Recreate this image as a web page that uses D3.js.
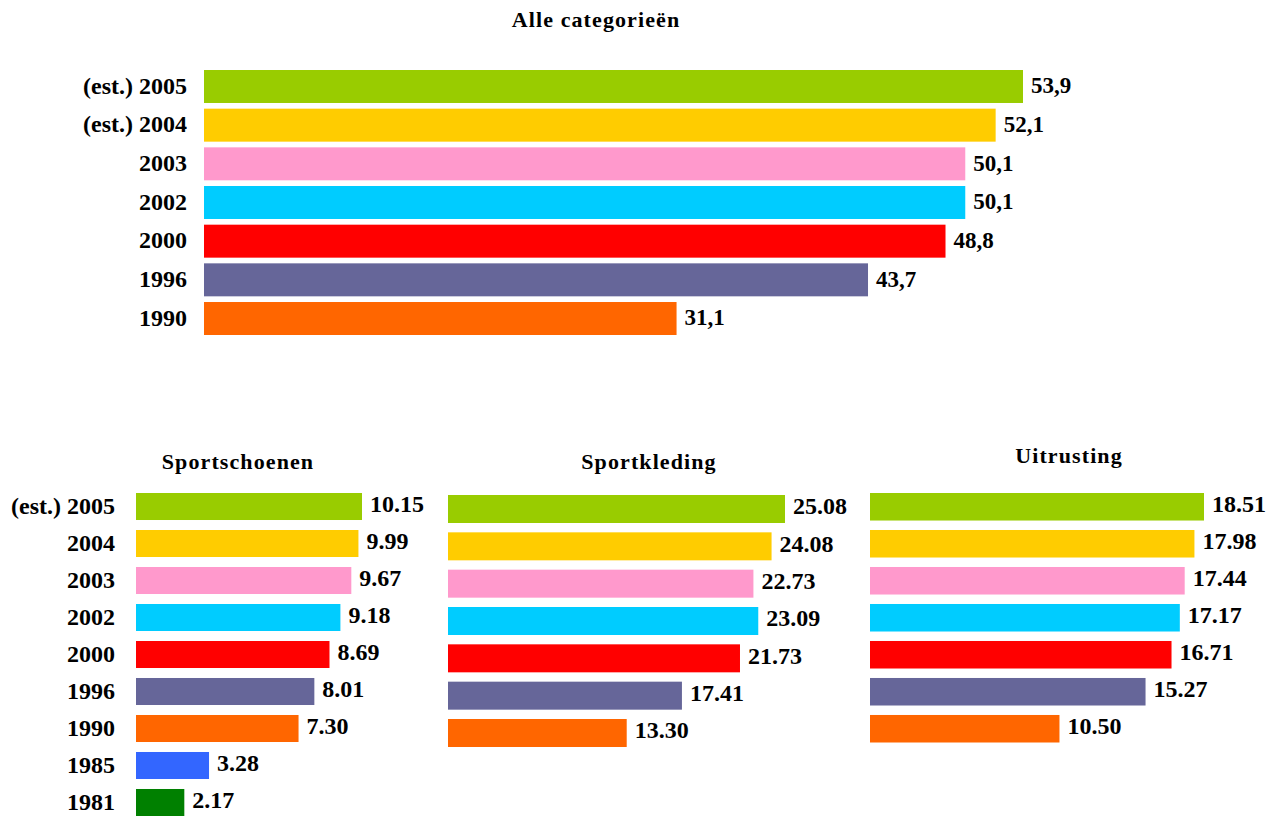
<!DOCTYPE html>
<html>
<head>
<meta charset="utf-8">
<script src="https://cdn.jsdelivr.net/npm/d3@7/dist/d3.min.js"></script>
<style>
  html, body { margin: 0; padding: 0; background: #ffffff; }
  svg { display: block; }
  text { font-family: "Liberation Serif", "Times New Roman", serif; font-weight: bold; fill: #000; }
</style>
</head>
<body>
<svg id="chart" width="1278" height="816"></svg>
<script>
// Sport-related spending per year, in total and split into three categories
const colorKeys = ["2005", "2004", "2003", "2002", "2000", "1996", "1990", "1985", "1981"];
const colorValues = ["#99CC00", "#FFCC00", "#FF99CC", "#00CCFF", "#FF0000", "#666699", "#FF6600", "#3366FF", "#008000"];

const totalYears = ["2005", "2004", "2003", "2002", "2000", "1996", "1990"];
const totalLabels = ["(est.) 2005", "(est.) 2004", "2003", "2002", "2000", "1996", "1990"];
const totalValues = [53.9, 52.1, 50.1, 50.1, 48.8, 43.7, 31.1];

const shoeYears = ["2005", "2004", "2003", "2002", "2000", "1996", "1990", "1985", "1981"];
const shoeLabels = ["(est.) 2005", "2004", "2003", "2002", "2000", "1996", "1990", "1985", "1981"];
const shoeValues = [10.15, 9.99, 9.67, 9.18, 8.69, 8.01, 7.30, 3.28, 2.17];

const clothingYears = ["2005", "2004", "2003", "2002", "2000", "1996", "1990"];
const clothingValues = [25.08, 24.08, 22.73, 23.09, 21.73, 17.41, 13.30];

const equipmentYears = ["2005", "2004", "2003", "2002", "2000", "1996", "1990"];
const equipmentValues = [18.51, 17.98, 17.44, 17.17, 16.71, 15.27, 10.50];

const color = d3.scaleOrdinal().domain(colorKeys).range(colorValues);
const nl = d3.formatLocale({ decimal: ",", thousands: ".", grouping: [3], currency: ["€", ""] });
const fmtComma = nl.format(".1f");
const fmtDot = d3.format(".2f");

const svg = d3.select("#chart");

function panel(opts) {
  const data = opts.years.map((y, i) => ({ key: y, value: opts.values[i], label: opts.labels ? opts.labels[i] : null }));
  const g = svg.append("g");

  const x = d3.scaleLinear()
    .domain([0, d3.max(opts.values)])
    .range([opts.x0, opts.x1]);
  const y = d3.scaleBand()
    .domain(opts.years)
    .range([opts.y0, opts.y1])
    .paddingInner(opts.pad)
    .paddingOuter(0);

  g.append("text")
    .attr("x", opts.titleX)
    .attr("y", opts.titleY)
    .attr("text-anchor", "middle")
    .attr("font-size", 22)
    .attr("letter-spacing", 1.1)
    .text(opts.title);

  g.selectAll("rect.bar")
    .data(data)
    .join("rect")
    .attr("class", "bar")
    .attr("x", x(0))
    .attr("y", d => y(d.key))
    .attr("width", d => x(d.value) - x(0))
    .attr("height", y.bandwidth())
    .attr("fill", d => color(d.key));

  g.selectAll("text.val")
    .data(data)
    .join("text")
    .attr("class", "val")
    .attr("x", d => x(d.value) + 8)
    .attr("y", d => y(d.key) + y.bandwidth() / 2)
    .attr("dy", opts.valDy)
    .attr("font-size", opts.valSize)
    .text(d => opts.fmt(d.value));

  if (opts.labels) {
    g.selectAll("text.cat")
      .data(data)
      .join("text")
      .attr("class", "cat")
      .attr("x", opts.labelX)
      .attr("y", d => y(d.key) + y.bandwidth() / 2)
      .attr("dy", "0.3em")
      .attr("text-anchor", "end")
      .attr("font-size", 24)
      .text(d => d.label);
  }
}

panel({
  title: "Alle categorieën", titleX: 596, titleY: 27,
  years: totalYears, labels: totalLabels, values: totalValues, fmt: fmtComma,
  x0: 204, x1: 1023, y0: 70, y1: 335, pad: 0.147,
  labelX: 187, valSize: 23, valDy: "0.3em"
});

panel({
  title: "Sportschoenen", titleX: 238, titleY: 469,
  years: shoeYears, labels: shoeLabels, values: shoeValues, fmt: fmtDot,
  x0: 136, x1: 362, y0: 493, y1: 816, pad: 0.27,
  labelX: 115, valSize: 24, valDy: "0.22em"
});

panel({
  title: "Sportkleding", titleX: 649, titleY: 469,
  years: clothingYears, labels: null, values: clothingValues, fmt: fmtDot,
  x0: 448, x1: 785, y0: 495, y1: 747, pad: 0.25,
  valSize: 24, valDy: "0.22em"
});

panel({
  title: "Uitrusting", titleX: 1069, titleY: 463,
  years: equipmentYears, labels: null, values: equipmentValues, fmt: fmtDot,
  x0: 870, x1: 1204, y0: 493, y1: 742.5, pad: 0.256,
  valSize: 24, valDy: "0.2em"
});
</script>
</body>
</html>
